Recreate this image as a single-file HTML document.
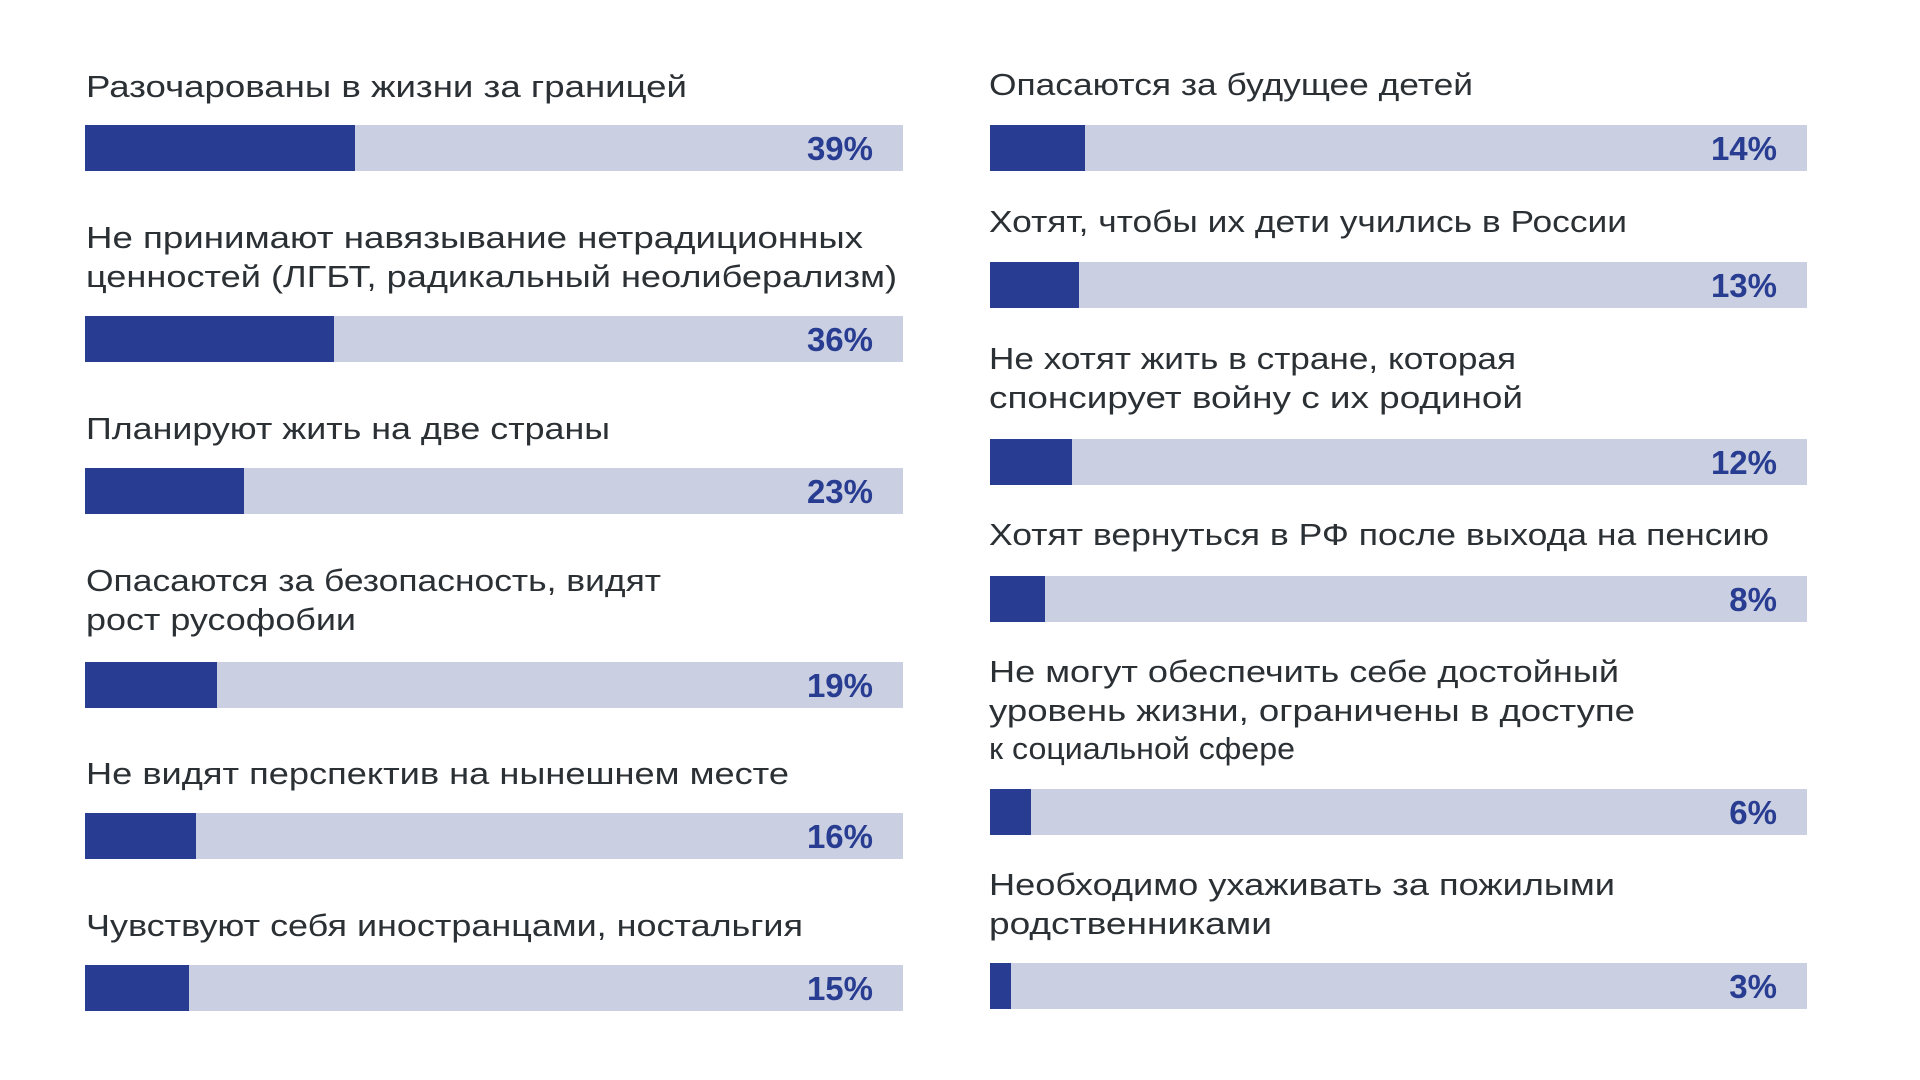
<!DOCTYPE html>
<html><head><meta charset="utf-8"><style>
html,body{margin:0;padding:0;background:#fff;width:1920px;height:1080px;overflow:hidden}
svg text{font-family:"Liberation Sans",sans-serif}
.t{font-size:31px;fill:#2b3035}
.p{font-size:33px;font-weight:bold;fill:#283d91;text-anchor:end}
.bg{fill:#cacfe2}.fg{fill:#283d91}
</style></head><body>
<svg width="1920" height="1080" xmlns="http://www.w3.org/2000/svg">
<g transform="translate(0,-2)">
<text class="t" x="86" y="99" textLength="601" lengthAdjust="spacingAndGlyphs">Разочарованы в жизни за границей</text>
<text class="t" x="86" y="250" textLength="777" lengthAdjust="spacingAndGlyphs">Не принимают навязывание нетрадиционных</text>
<text class="t" x="86" y="289" textLength="811" lengthAdjust="spacingAndGlyphs">ценностей (ЛГБТ, радикальный неолиберализм)</text>
<text class="t" x="86" y="441" textLength="524" lengthAdjust="spacingAndGlyphs">Планируют жить на две страны</text>
<text class="t" x="86" y="593" textLength="575" lengthAdjust="spacingAndGlyphs">Опасаются за безопасность, видят</text>
<text class="t" x="86" y="632" textLength="270" lengthAdjust="spacingAndGlyphs">рост русофобии</text>
<text class="t" x="86" y="786" textLength="703" lengthAdjust="spacingAndGlyphs">Не видят перспектив на нынешнем месте</text>
<text class="t" x="86" y="938" textLength="717" lengthAdjust="spacingAndGlyphs">Чувствуют себя иностранцами, ностальгия</text>
<text class="t" x="989" y="97" textLength="484" lengthAdjust="spacingAndGlyphs">Опасаются за будущее детей</text>
<text class="t" x="989" y="234" textLength="638" lengthAdjust="spacingAndGlyphs">Хотят, чтобы их дети учились в России</text>
<text class="t" x="989" y="371" textLength="527" lengthAdjust="spacingAndGlyphs">Не хотят жить в стране, которая</text>
<text class="t" x="989" y="410" textLength="534" lengthAdjust="spacingAndGlyphs">спонсирует войну с их родиной</text>
<text class="t" x="989" y="547" textLength="780" lengthAdjust="spacingAndGlyphs">Хотят вернуться в РФ после выхода на пенсию</text>
<text class="t" x="989" y="684" textLength="630" lengthAdjust="spacingAndGlyphs">Не могут обеспечить себе достойный</text>
<text class="t" x="989" y="723" textLength="646" lengthAdjust="spacingAndGlyphs">уровень жизни, ограничены в доступе</text>
<text class="t" x="989" y="761" textLength="306" lengthAdjust="spacingAndGlyphs">к социальной сфере</text>
<text class="t" x="989" y="897" textLength="626" lengthAdjust="spacingAndGlyphs">Необходимо ухаживать за пожилыми</text>
<text class="t" x="989" y="936" textLength="283" lengthAdjust="spacingAndGlyphs">родственниками</text>
</g>
<g>
<rect class="bg" x="85" y="125" width="818" height="46"/><rect class="fg" x="85" y="125" width="270" height="46"/>
<text class="p" x="873" y="160">39%</text>
<rect class="bg" x="85" y="316" width="818" height="46"/><rect class="fg" x="85" y="316" width="249" height="46"/>
<text class="p" x="873" y="351">36%</text>
<rect class="bg" x="85" y="468" width="818" height="46"/><rect class="fg" x="85" y="468" width="159" height="46"/>
<text class="p" x="873" y="503">23%</text>
<rect class="bg" x="85" y="662" width="818" height="46"/><rect class="fg" x="85" y="662" width="132" height="46"/>
<text class="p" x="873" y="697">19%</text>
<rect class="bg" x="85" y="813" width="818" height="46"/><rect class="fg" x="85" y="813" width="111" height="46"/>
<text class="p" x="873" y="848">16%</text>
<rect class="bg" x="85" y="965" width="818" height="46"/><rect class="fg" x="85" y="965" width="104" height="46"/>
<text class="p" x="873" y="1000">15%</text>

<rect class="bg" x="990" y="125" width="817" height="46"/><rect class="fg" x="990" y="125" width="95" height="46"/>
<text class="p" x="1777" y="160">14%</text>
<rect class="bg" x="990" y="262" width="817" height="46"/><rect class="fg" x="990" y="262" width="89" height="46"/>
<text class="p" x="1777" y="297">13%</text>
<rect class="bg" x="990" y="439" width="817" height="46"/><rect class="fg" x="990" y="439" width="82" height="46"/>
<text class="p" x="1777" y="474">12%</text>
<rect class="bg" x="990" y="576" width="817" height="46"/><rect class="fg" x="990" y="576" width="55" height="46"/>
<text class="p" x="1777" y="611">8%</text>
<rect class="bg" x="990" y="789" width="817" height="46"/><rect class="fg" x="990" y="789" width="41" height="46"/>
<text class="p" x="1777" y="824">6%</text>
<rect class="bg" x="990" y="963" width="817" height="46"/><rect class="fg" x="990" y="963" width="21" height="46"/>
<text class="p" x="1777" y="998">3%</text>
</g>
</svg>
</body></html>
